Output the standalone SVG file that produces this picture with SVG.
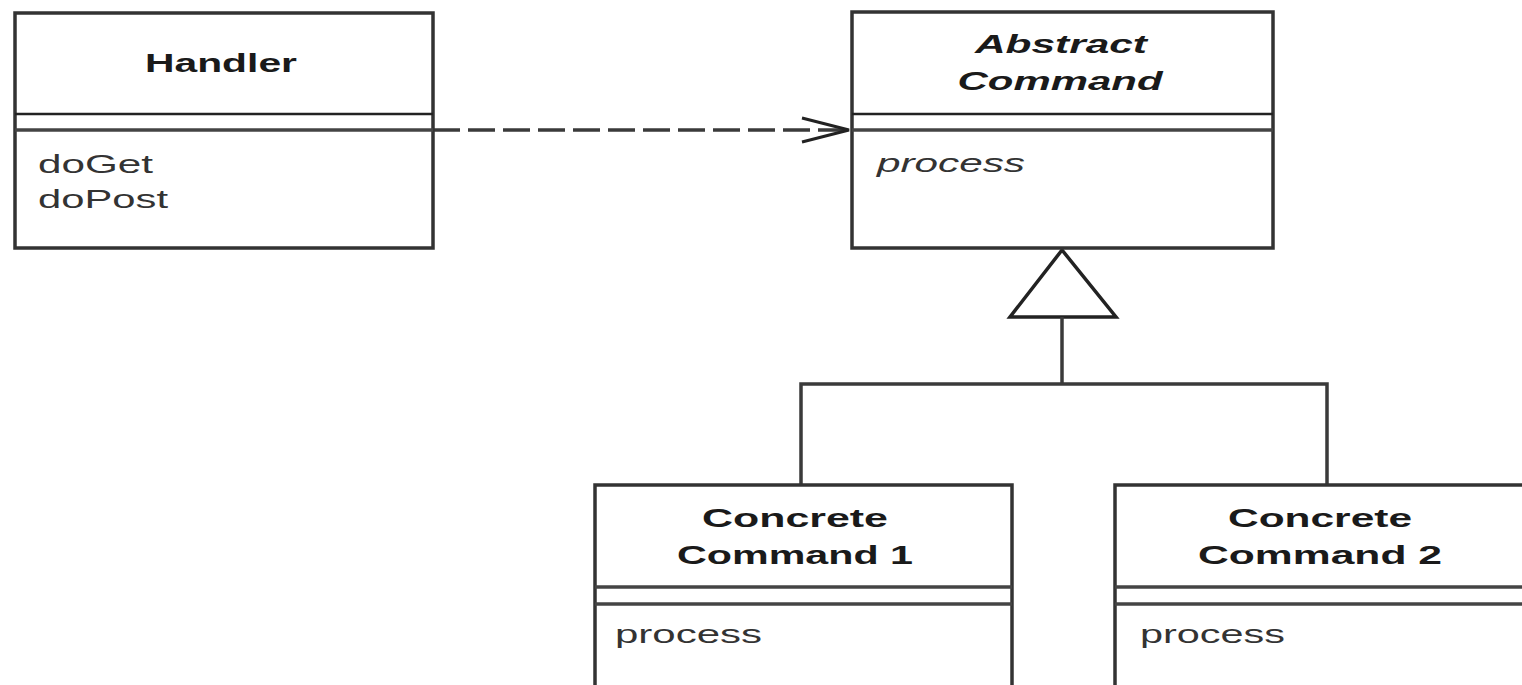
<svg xmlns="http://www.w3.org/2000/svg" width="1522" height="685" viewBox="0 0 1522 685">
<style>
.box{fill:#fff;stroke:#333;stroke-width:3.5}
.sep1{stroke:#222;stroke-width:2.5}
.sep2{stroke:#444;stroke-width:3.5}
.conn{fill:none;stroke:#3a3a3a;stroke-width:3.5}
.t{font-family:"Liberation Sans",Arial,sans-serif;font-size:26px;fill:#333}
.h{font-weight:bold;text-anchor:middle;fill:#1a1a1a}
.i{font-style:italic}
</style>
<g id="connectors">
<line class="conn" x1="433" y1="130" x2="846" y2="130" stroke-dasharray="27 8"/>
<polyline class="conn" points="802,118 849,130 802,142" style="stroke:#222;stroke-width:3"/>
<polygon points="1062,250 1010,317 1116,317" fill="#fff" stroke="#222" stroke-width="3.5"/>
<polyline class="conn" points="1062,317 1062,384"/>
<polyline class="conn" points="801,485 801,384 1327,384 1327,485"/>
</g>
<g id="handler">
<rect class="box" x="15" y="13" width="418" height="235"/>
<line class="sep1" x1="15" y1="114" x2="433" y2="114"/>
<line class="sep2" x1="15" y1="130" x2="433" y2="130"/>
<text class="t h" x="221" y="72" textLength="152" lengthAdjust="spacingAndGlyphs">Handler</text>
<text class="t" x="38" y="173" textLength="115" lengthAdjust="spacingAndGlyphs">doGet</text>
<text class="t" x="38" y="208" textLength="130" lengthAdjust="spacingAndGlyphs">doPost</text>
</g>
<g id="abstract-command">
<rect class="box" x="852" y="12" width="421" height="236"/>
<line class="sep1" x1="852" y1="114" x2="1273" y2="114"/>
<line class="sep2" x1="852" y1="130" x2="1273" y2="130"/>
<text class="t h i" x="1061" y="53" textLength="172" lengthAdjust="spacingAndGlyphs">Abstract</text>
<text class="t h i" x="1060" y="90" textLength="205" lengthAdjust="spacingAndGlyphs">Command</text>
<text class="t i" x="877" y="172" textLength="148" lengthAdjust="spacingAndGlyphs">process</text>
</g>
<g id="concrete-command-1">
<rect class="box" x="595" y="485" width="417" height="230"/>
<line class="sep2" x1="595" y1="587" x2="1012" y2="587"/>
<line class="sep2" x1="595" y1="604" x2="1012" y2="604"/>
<text class="t h" x="795" y="527" textLength="186" lengthAdjust="spacingAndGlyphs">Concrete</text>
<text class="t h" x="795" y="564" textLength="236" lengthAdjust="spacingAndGlyphs">Command 1</text>
<text class="t" x="615" y="643" textLength="147" lengthAdjust="spacingAndGlyphs">process</text>
</g>
<g id="concrete-command-2">
<rect class="box" x="1115" y="485" width="430" height="230"/>
<line class="sep2" x1="1115" y1="587" x2="1545" y2="587"/>
<line class="sep2" x1="1115" y1="604" x2="1545" y2="604"/>
<text class="t h" x="1320" y="527" textLength="184" lengthAdjust="spacingAndGlyphs">Concrete</text>
<text class="t h" x="1320" y="564" textLength="244" lengthAdjust="spacingAndGlyphs">Command 2</text>
<text class="t" x="1140" y="643" textLength="145" lengthAdjust="spacingAndGlyphs">process</text>
</g>
</svg>
